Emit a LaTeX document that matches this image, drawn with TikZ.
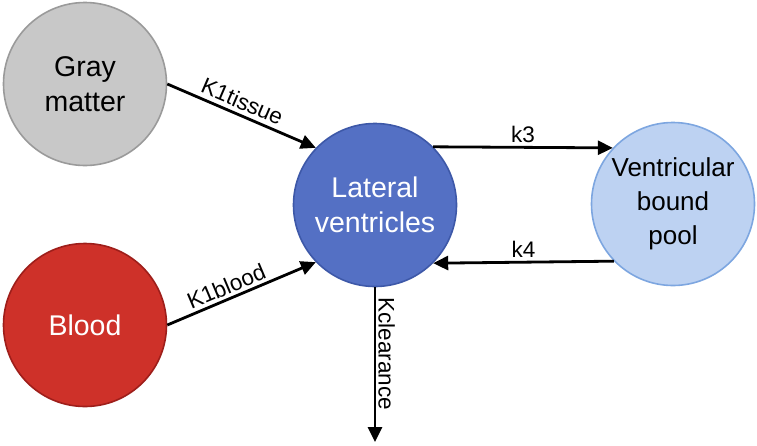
\documentclass[tikz,border=0pt]{standalone}
\usepackage{fontspec}
\setmainfont{Liberation Sans}
\usetikzlibrary{arrows.meta}
\definecolor{gmfill}{HTML}{C8C8C8}
\definecolor{gmdraw}{HTML}{9A9A9A}
\definecolor{lvfill}{HTML}{5470C4}
\definecolor{lvdraw}{HTML}{3D58A8}
\definecolor{vbfill}{HTML}{BDD2F2}
\definecolor{vbdraw}{HTML}{7DA6E0}
\definecolor{blfill}{HTML}{CE3129}
\definecolor{bldraw}{HTML}{9E1E1A}
\tikzset{
  comp/.style={circle, minimum size=163pt, inner sep=0pt, line width=1.6pt, align=center,
    font=\fontsize{28.5}{35}\selectfont},
  flow/.style={line width=2.8pt, -{Triangle[length=15pt,width=14pt]}},
  lab/.style={font=\fontsize{22.5}{26}\selectfont, inner sep=3pt}
}
\begin{document}
\begin{tikzpicture}[x=1pt,y=-1pt]
\useasboundingbox (0,0) rectangle (757,445);
\node[comp, fill=gmfill, draw=gmdraw] (gm) at (85,84) {Gray\\matter};
\node[comp, fill=blfill, draw=bldraw, text=white] (bl) at (85,325) {Blood};
\node[comp, fill=lvfill, draw=lvdraw, text=white] (lv) at (375,205) {Lateral\\ventricles};
\node[comp, fill=vbfill, draw=vbdraw, font=\fontsize{26}{34}\selectfont] (vb) at (673,204) {Ventricular\\bound\\pool};
\coordinate (out) at (375,442);
\draw[flow] (gm.east) -- node[lab, pos=0.47, sloped, above, inner sep=4pt] (l1) {K1tissue} (lv.136);
\draw[flow] (bl.east) -- node[lab, pos=0.43, sloped, above] (l2) {K1blood} (lv.224);
\draw[flow] (lv.45) -- node[lab, midway, above] (l3) {k3} (vb.137);
\draw[flow] (vb.224) -- node[lab, midway, above] (l4) {k4} (lv.315);
\draw[flow] (lv.south) -- node[lab, pos=0.43, sloped, above, inner sep=2pt] (l5) {Kclearance} (out);
\end{tikzpicture}
\end{document}
